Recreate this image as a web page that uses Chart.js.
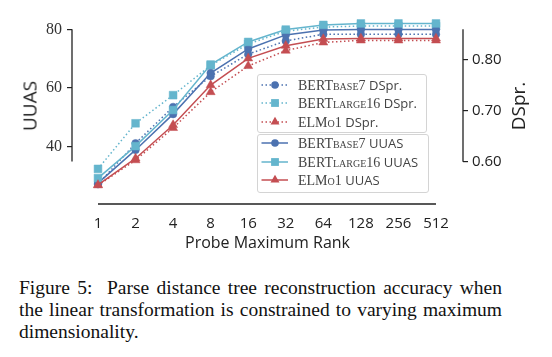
<!DOCTYPE html>
<html><head><meta charset="utf-8">
<script src="https://cdn.jsdelivr.net/npm/chart.js@4.4.0/dist/chart.umd.min.js"></script>
<style>
body{margin:0;background:#fff;width:552px;height:357px;overflow:hidden;}
#wrap{position:relative;width:552px;height:255px;}
canvas{position:absolute;left:0;top:0;}
.ytitle{position:absolute;font-family:'Open Sans';font-size:19px;color:#222;transform:translate(-50%,-50%) rotate(-90deg);white-space:nowrap;line-height:1;}
.lbox{position:absolute;border:1px solid #d4d4d4;border-radius:3px;background:rgba(255,255,255,0.8);box-sizing:border-box;}
.lrow{position:absolute;height:16px;display:flex;align-items:center;white-space:nowrap;}
.lrow svg{flex:none;}
.serif{font-family:'Liberation Serif';font-size:14px;color:#444;margin-left:9px;}
.sc{font-variant:small-caps;}
.sans{font-family:'Open Sans';font-size:13px;color:#444;}
#cap{position:absolute;left:19px;top:277px;width:483px;font-family:'Liberation Serif';font-size:19.5px;line-height:22px;color:#111;}
#cap div{white-space:nowrap;}
.jl{text-align:justify;text-align-last:justify;}
</style>
</head><body>
<div id="wrap">
<canvas id="c" width="552" height="255"></canvas>
<div class="ytitle" style="left:30px;top:106px;">UUAS</div>
<div class="ytitle" style="left:518px;top:105.5px;">DSpr.</div>
<div class="lbox" style="left:257px;top:74px;width:170px;height:59px;"></div>
<div class="lbox" style="left:257px;top:134px;width:172px;height:59px;"></div>
<div id="legend"></div>
</div>
<div id="cap">
<div class="jl">Figure 5:&nbsp; Parse distance tree reconstruction accuracy when</div>
<div class="jl">the linear transformation is constrained to varying maximum</div>
<div>dimensionality.</div>
</div>
<script>
// ---- data ----
const ranks = ['1','2','4','8','16','32','64','128','256','512'];
const bertBaseDSpr  = [0.556, 0.636, 0.707, 0.767, 0.810, 0.836, 0.849, 0.849, 0.849, 0.849];
const bertLargeDSpr = [0.586, 0.675, 0.730, 0.788, 0.830, 0.855, 0.863, 0.865, 0.865, 0.865];
const elmoDSpr      = [0.554, 0.603, 0.666, 0.736, 0.787, 0.817, 0.833, 0.837, 0.837, 0.837];
const bertBaseUUAS  = [27.6, 38.9, 51.1, 65.1, 73.3, 78.1, 79.8, 79.9, 79.9, 79.9];
const bertLargeUUAS = [29.3, 40.2, 52.5, 68.0, 75.7, 79.9, 81.5, 82.0, 82.0, 82.0];
const elmoUUAS      = [27.0, 36.0, 47.4, 61.0, 70.1, 74.4, 76.7, 76.9, 76.9, 76.9];
const uuasTicks = [40, 60, 80];
const dsprTicks = [0.60, 0.70, 0.80];
const uuasSpine = [35, 80];
const dsprSpine = [0.60, 0.8586];

const BLUE = '#4C72B0', CYAN = '#64B5CD', RED = '#C44E52';
const series = [
  {name:['BERT','base','7'],  metric:'DSpr.', data:bertBaseDSpr,  color:BLUE, shape:'circle',   dotted:true,  axis:'yR'},
  {name:['BERT','large','16'],metric:'DSpr.', data:bertLargeDSpr, color:CYAN, shape:'rect',     dotted:true,  axis:'yR'},
  {name:['ELM','o','1'],      metric:'DSpr.', data:elmoDSpr,      color:RED,  shape:'triangle', dotted:true,  axis:'yR'},
  {name:['BERT','base','7'],  metric:'UUAS',  data:bertBaseUUAS,  color:BLUE, shape:'circle',   dotted:false, axis:'yL'},
  {name:['BERT','large','16'],metric:'UUAS',  data:bertLargeUUAS, color:CYAN, shape:'rect',     dotted:false, axis:'yL'},
  {name:['ELM','o','1'],      metric:'UUAS',  data:elmoUUAS,      color:RED,  shape:'triangle', dotted:false, axis:'yL'}
];
const radius = {circle:3.8, rect:5.5, triangle:5.2};

const datasets = series.map((s, k) => ({
  label: s.name.join('') + ' ' + s.metric,
  data: ranks.map((r, i) => ({x: i, y: s.data[i]})),
  yAxisID: s.axis,
  borderColor: s.color,
  backgroundColor: s.color,
  borderWidth: 1.5,
  borderDash: s.dotted ? [1.5, 2.5] : [],
  pointStyle: s.shape,
  pointRadius: radius[s.shape],
  pointBorderWidth: 0.5,
  pointBorderColor: s.color,
  pointBackgroundColor: s.color,
  tension: 0,
  clip: false,
  order: series.length - k
}));

const spines = {
  id: 'spines',
  afterDraw(chart) {
    const {ctx, chartArea, scales} = chart;
    const x = scales.x, yL = scales.yL, yR = scales.yR;
    ctx.save();
    ctx.strokeStyle = '#222';
    ctx.lineWidth = 1.3;
    ctx.beginPath();
    ctx.moveTo(x.getPixelForValue(0), chartArea.bottom);
    ctx.lineTo(x.getPixelForValue(ranks.length - 1), chartArea.bottom);
    ctx.moveTo(chartArea.left, yL.getPixelForValue(uuasSpine[0]));
    ctx.lineTo(chartArea.left, yL.getPixelForValue(uuasSpine[1]));
    ctx.moveTo(chartArea.right, yR.getPixelForValue(dsprSpine[0]));
    ctx.lineTo(chartArea.right, yR.getPixelForValue(dsprSpine[1]));
    ctx.stroke();
    ctx.restore();
  }
};

new Chart(document.getElementById('c'), {
  type: 'line',
  data: {datasets},
  plugins: [spines],
  options: {
    responsive: false, animation: false, devicePixelRatio: 1,
    layout: {padding: {top: 22, left: 0, right: 0, bottom: 0}},
    plugins: {legend: {display: false}, tooltip: {enabled: false}},
    scales: {
      x: {
        type: 'linear', min: -0.692, max: 9.719,
        afterBuildTicks: s => { s.ticks = ranks.map((_, i) => ({value: i})); },
        afterFit: s => { s.height = 51; },
        ticks: {callback: v => ranks[v], autoSkip: false, maxRotation: 0, padding: 11,
                font: {family: 'Open Sans', size: 15}, color: '#222'},
        grid: {display: true, drawOnChartArea: false, drawTicks: false, color: 'rgba(0,0,0,0)'},
        border: {display: false},
        title: {display: true, text: 'Probe Maximum Rank', font: {family: 'Open Sans', size: 16},
                color: '#222', padding: {top: 0, bottom: 2}}
      },
      yL: {
        type: 'linear', position: 'left', min: 20.48, max: 82.49,
        afterBuildTicks: s => { s.ticks = uuasTicks.map(v => ({value: v})); },
        afterFit: s => { s.width = 72; },
        ticks: {padding: 5, font: {family: 'Liberation Serif', size: 16}, color: '#333'},
        grid: {drawOnChartArea: false, drawTicks: true, tickLength: 5, color: '#222', lineWidth: 1.2},
        border: {display: false}
      },
      yR: {
        type: 'linear', position: 'right', min: 0.5174, max: 0.8729,
        afterBuildTicks: s => { s.ticks = dsprTicks.map(v => ({value: v})); },
        afterFit: s => { s.width = 89; },
        ticks: {padding: 4, callback: v => v.toFixed(2), font: {family: 'Open Sans', size: 15}, color: '#222'},
        grid: {drawOnChartArea: false, drawTicks: true, tickLength: 5, color: '#222', lineWidth: 1.2},
        border: {display: false}
      }
    }
  }
});

// ---- HTML legend built from the series ----
function markerSvg(s) {
  const c = s.color, cx = 14, cy = 7;
  let m = '';
  if (s.shape === 'circle') m = `<circle cx="${cx}" cy="${cy}" r="3.8" fill="${c}"/>`;
  else if (s.shape === 'rect') m = `<rect x="${cx-3.9}" y="${cy-3.9}" width="7.8" height="7.8" fill="${c}"/>`;
  else m = `<polygon points="${cx},${cy-5.2} ${cx+4.5},${cy+2.6} ${cx-4.5},${cy+2.6}" fill="${c}"/>`;
  const dash = s.dotted ? ' stroke-dasharray="1.5 2.5"' : '';
  return `<svg width="28" height="14" viewBox="0 0 28 14"><line x1="0.5" y1="7" x2="27" y2="7" stroke="${c}" stroke-width="1.5"${dash}/>${m}</svg>`;
}
const rowY = [85, 103.3, 121.7, 143.3, 161.7, 180];
document.getElementById('legend').innerHTML = series.map((s, k) =>
  `<div class="lrow" style="left:261px;top:${rowY[k]-8}px;">${markerSvg(s)}<span class="serif">${s.name[0]}<span class="sc">${s.name[1]}</span>${s.name[2]} <span class="sans">${s.metric}</span></span></div>`
).join('');
</script>
</body></html>
